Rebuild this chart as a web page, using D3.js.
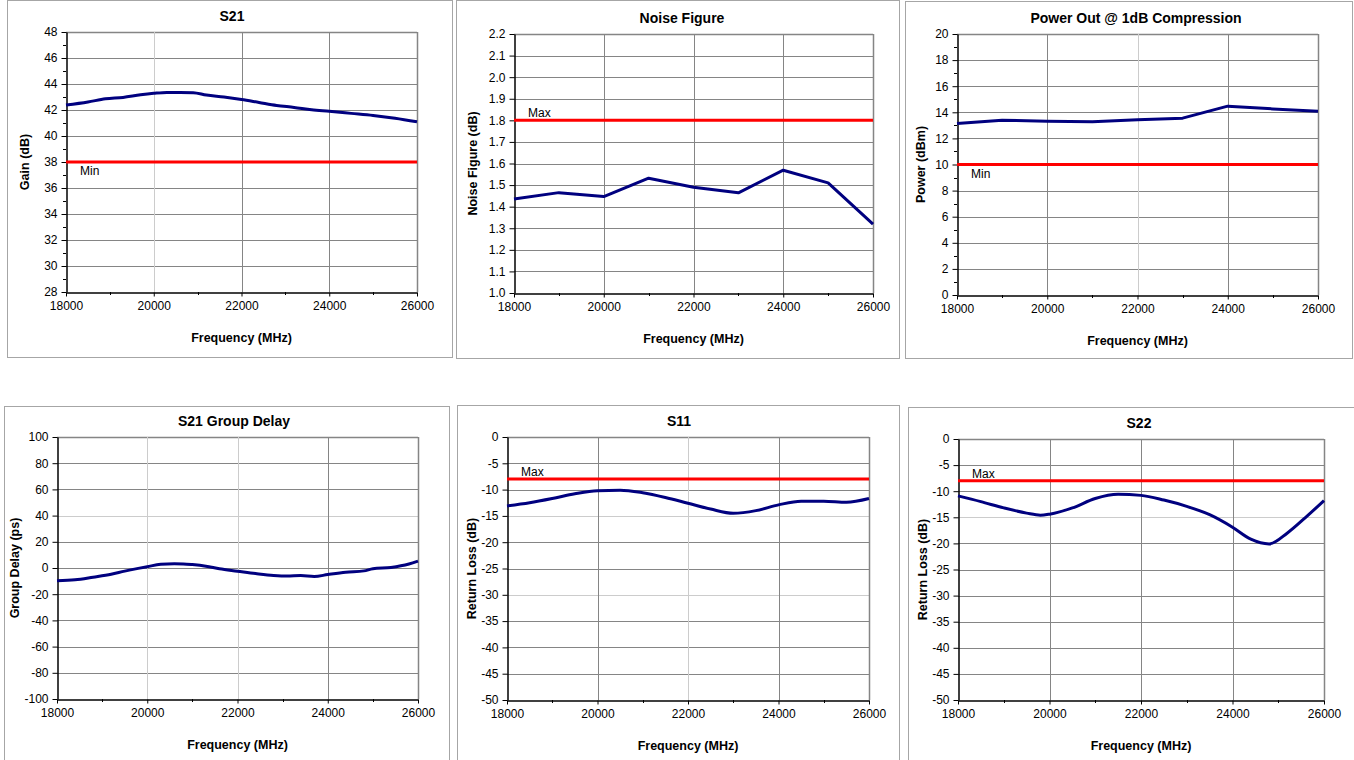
<!DOCTYPE html>
<html>
<head>
<meta charset="utf-8">
<script src="https://cdn.jsdelivr.net/npm/d3@7"></script>
<style>
  html, body { margin: 0; padding: 0; background: #fff; }
  svg { display: block; font-family: "Liberation Sans", Arial, sans-serif; }
</style>
</head>
<body>
<svg id="chart" width="1354" height="760"></svg>
<script>
// ---------------- DATA ----------------
const freqTicks = [18000, 20000, 22000, 24000, 26000];

const s21Freq = [18000, 18500, 18900, 19300, 19700, 20000, 20300, 20600, 20900, 21200, 21600, 22000, 22400, 22800, 23200, 23600, 24000, 24500, 25000, 25500, 26000];
const s21Gain = [42.38, 42.62, 42.86, 42.97, 43.17, 43.28, 43.35, 43.35, 43.33, 43.15, 43.0, 42.81, 42.58, 42.35, 42.2, 42.02, 41.9, 41.74, 41.58, 41.37, 41.09];
const s21Ticks = [28, 30, 32, 34, 36, 38, 40, 42, 44, 46, 48];
const s21Min = 38;

const nfFreq = [18000, 19000, 20000, 21000, 22000, 23000, 24000, 25000, 26000];
const nfValues = [1.436, 1.465, 1.447, 1.532, 1.490, 1.464, 1.569, 1.510, 1.319];
const nfTicks = [1.0, 1.1, 1.2, 1.3, 1.4, 1.5, 1.6, 1.7, 1.8, 1.9, 2.0, 2.1, 2.2];
const nfMax = 1.8;

const p1dbFreq = [18000, 19000, 20000, 21000, 22000, 23000, 24000, 25000, 26000];
const p1dbValues = [13.14, 13.39, 13.32, 13.27, 13.42, 13.55, 14.47, 14.26, 14.08];
const p1dbTicks = [0, 2, 4, 6, 8, 10, 12, 14, 16, 18, 20];
const p1dbMin = 10;

const gdFreq = [18000, 18400, 18800, 19200, 19500, 19800, 20000, 20300, 20600, 20800, 21000, 21300, 21600, 22000, 22400, 22800, 23100, 23400, 23700, 24000, 24400, 24800, 25000, 25400, 25800, 26000];
const gdValues = [-9.8, -9.0, -7.0, -4.8, -2.4, -0.3, 1.0, 2.8, 3.2, 3.1, 2.6, 1.4, -0.6, -2.4, -4.2, -5.7, -6.2, -5.8, -6.5, -5.0, -3.2, -2.2, -0.6, 0.4, 3.0, 5.2];
const gdTicks = [-100, -80, -60, -40, -20, 0, 20, 40, 60, 80, 100];

const s11Freq = [18000, 18500, 19000, 19500, 20000, 20500, 21000, 21500, 22000, 22500, 23000, 23500, 24000, 24500, 25000, 25500, 26000];
const s11Values = [-13.1, -12.5, -11.7, -10.8, -10.2, -10.1, -10.6, -11.5, -12.6, -13.7, -14.5, -14.0, -12.9, -12.2, -12.2, -12.4, -11.7];
const rlTicks = [-50, -45, -40, -35, -30, -25, -20, -15, -10, -5, 0];
const s11Max = -8;

const s22Freq = [18000, 18500, 19000, 19500, 19800, 20000, 20500, 21000, 21500, 22000, 22500, 23000, 23500, 24000, 24400, 24800, 25200, 25600, 26000];
const s22Values = [-10.9, -12.0, -13.2, -14.2, -14.6, -14.4, -13.2, -11.4, -10.6, -10.8, -11.7, -12.9, -14.5, -16.9, -19.2, -20.1, -18.0, -15.0, -11.8];
const s22Max = -8;

// ---------------- PANELS ----------------
const loc = d3.formatLocale({ decimal: ".", thousands: ",", grouping: [3], currency: ["$", ""], minus: "-" });
const fInt = loc.format("d"), f1 = loc.format(".1f");

const panels = [
  { title: "S21", yTitle: "Gain (dB)", box: [7, 0, 452, 357], plot: [66, 32, 417, 292], titleX: 232, yTitleX: 25,
    freq: s21Freq, vals: s21Gain, yTicks: s21Ticks, yMinor: 1, fmt: fInt, smooth: true,
    limit: s21Min, limitLabel: "Min", lightV: [20000], lightH: [] },
  { title: "Noise Figure", yTitle: "Noise Figure (dB)", box: [456, 0, 899, 358], plot: [514, 34, 873, 293], titleX: 682, yTitleX: 473,
    freq: nfFreq, vals: nfValues, yTicks: nfTicks, yMinor: 0, fmt: f1, smooth: false,
    limit: nfMax, limitLabel: "Max", lightV: [], lightH: [] },
  { title: "Power Out @ 1dB Compression", yTitle: "Power (dBm)", box: [905, 1, 1352, 358], plot: [957, 34, 1318, 295], titleX: 1136, yTitleX: 921,
    freq: p1dbFreq, vals: p1dbValues, yTicks: p1dbTicks, yMinor: 1, fmt: fInt, smooth: false,
    limit: p1dbMin, limitLabel: "Min", lightV: [22000], lightH: [] },
  { title: "S21 Group Delay", yTitle: "Group Delay (ps)", box: [4, 406, 449, 775], plot: [57, 437, 418, 699], titleX: 234, yTitleX: 15,
    freq: gdFreq, vals: gdValues, yTicks: gdTicks, yMinor: 0, fmt: fInt, smooth: true,
    limit: null, limitLabel: "", lightV: [20000, 22000], lightH: [40] },
  { title: "S11", yTitle: "Return Loss (dB)", box: [457, 405, 899, 775], plot: [507, 437, 869, 700], titleX: 679, yTitleX: 472,
    freq: s11Freq, vals: s11Values, yTicks: rlTicks, yMinor: 0, fmt: fInt, smooth: true,
    limit: s11Max, limitLabel: "Max", lightV: [22000], lightH: [-15, -30] },
  { title: "S22", yTitle: "Return Loss (dB)", box: [908, 407, 1362, 775], plot: [958, 439, 1324, 700], titleX: 1139, yTitleX: 923,
    freq: s22Freq, vals: s22Values, yTicks: rlTicks, yMinor: 0, fmt: fInt, smooth: true,
    limit: s22Max, limitLabel: "Max", lightV: [], lightH: [-15] }
];

const svg = d3.select("#chart");
const GRID = "#858585", LIGHT = "#cccccc";

panels.forEach(p => {
  const g = svg.append("g");
  const [bx0, by0, bx1, by1] = p.box;
  g.append("rect").attr("x", bx0 + 0.5).attr("y", by0 + 0.5)
    .attr("width", bx1 - bx0).attr("height", by1 - by0)
    .attr("fill", "#fff").attr("stroke", "#a6a6a6").attr("stroke-width", 1);

  const [L, T, R, B] = p.plot;
  const x = d3.scaleLinear().domain([18000, 26000]).range([L, R]);
  const yDom = d3.extent(p.yTicks);
  const y = d3.scaleLinear().domain(yDom).range([B, T]);

  // gridlines
  p.yTicks.forEach(t => {
    if (t === yDom[0]) return;
    g.append("line").attr("x1", L).attr("x2", R).attr("y1", Math.round(y(t)) + 0.5).attr("y2", Math.round(y(t)) + 0.5)
      .attr("stroke", p.lightH.includes(t) ? LIGHT : GRID).attr("stroke-width", t === yDom[1] ? 1.5 : 1);
  });
  freqTicks.forEach(t => {
    if (t === 18000) return;
    g.append("line").attr("y1", T).attr("y2", B).attr("x1", Math.round(x(t)) + 0.5).attr("x2", Math.round(x(t)) + 0.5)
      .attr("stroke", p.lightV.includes(t) ? LIGHT : GRID).attr("stroke-width", t === 26000 ? 1.5 : 1);
  });

  // minor y ticks
  if (p.yMinor) {
    const minors = d3.range(yDom[0], yDom[1] + 0.001, p.yMinor).filter(v => !p.yTicks.includes(v));
    g.append("g").selectAll("line").data(minors).join("line")
      .attr("x1", L - 3).attr("x2", L).attr("y1", d => Math.round(y(d)) + 0.5).attr("y2", d => Math.round(y(d)) + 0.5)
      .attr("stroke", "#000");
  }
  // minor x ticks
  const xMinor = d3.range(19000, 26000, 2000);
  g.append("g").selectAll("line").data(xMinor).join("line")
    .attr("x1", d => Math.round(x(d)) + 0.5).attr("x2", d => Math.round(x(d)) + 0.5).attr("y1", B).attr("y2", B + 3)
    .attr("stroke", "#000");

  // axes
  const yAxis = d3.axisLeft(y).tickValues(p.yTicks).tickFormat(p.fmt).tickSizeInner(5).tickSizeOuter(0).tickPadding(4);
  const ya = g.append("g").attr("transform", `translate(${L + 0.5},0)`).call(yAxis);
  const xAxis = d3.axisBottom(x).tickValues(freqTicks).tickFormat(fInt).tickSizeInner(4).tickSizeOuter(0).tickPadding(5);
  const xa = g.append("g").attr("transform", `translate(0,${B + 0.5})`).call(xAxis);
  [ya, xa].forEach(a => {
    a.select(".domain").attr("stroke", "#000").attr("stroke-width", 1.5);
    a.selectAll(".tick line").attr("stroke", "#000");
    a.selectAll(".tick text").attr("fill", "#000").style("font-size", "12px").style("font-family", "Liberation Sans, Arial, sans-serif");
  });

  // limit line
  if (p.limit !== null) {
    const ly = y(p.limit);
    g.append("line").attr("x1", L).attr("x2", R).attr("y1", ly).attr("y2", ly)
      .attr("stroke", "#ff0000").attr("stroke-width", 3);
    g.append("text").attr("x", L + 14).attr("y", p.limitLabel === "Min" ? ly + 13 : ly - 3)
      .style("font-size", "12px").attr("fill", "#000").text(p.limitLabel);
  }

  // data line
  const line = d3.line().x((d, i) => x(p.freq[i])).y(d => y(d))
    .curve(p.smooth ? d3.curveMonotoneX : d3.curveLinear);
  g.append("path").datum(p.vals).attr("d", line)
    .attr("fill", "none").attr("stroke", "#00007f").attr("stroke-width", 3).attr("stroke-linejoin", "round");

  // titles
  g.append("text").attr("x", p.titleX).attr("y", T - 11).attr("text-anchor", "middle")
    .style("font-size", "14px").style("font-weight", "bold").text(p.title);
  g.append("text").attr("x", (L + R) / 2).attr("y", B + 50).attr("text-anchor", "middle")
    .style("font-size", "12.5px").style("font-weight", "bold").text("Frequency (MHz)");
  g.append("text").attr("transform", `translate(${p.yTitleX + 4},${(T + B) / 2}) rotate(-90)`).attr("text-anchor", "middle")
    .style("font-size", "12.5px").style("font-weight", "bold").text(p.yTitle);
});
</script>
</body>
</html>
